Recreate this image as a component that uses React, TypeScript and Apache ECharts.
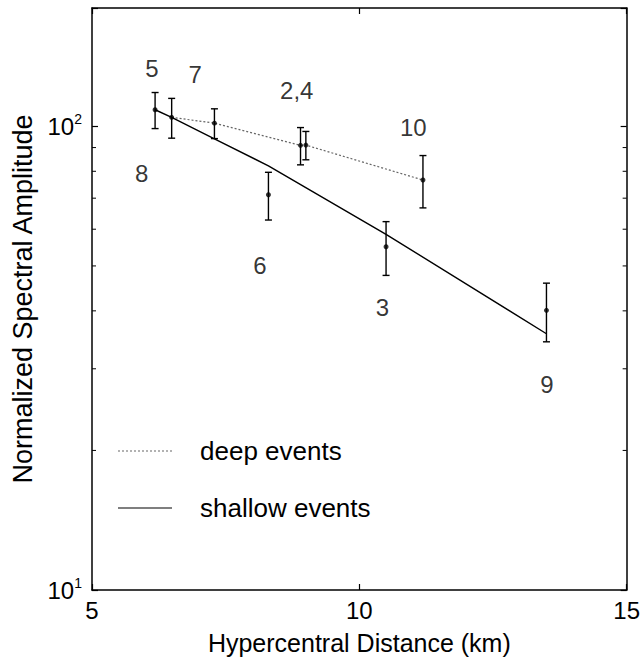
import React, { useEffect, useRef } from "react";
import * as echarts from "echarts";

// Events: id, hypercentral distance (km), normalized amplitude, error
const eventIds = ["5", "8", "7", "2", "4", "6", "10", "3", "9"];
const distances = [6.18, 6.49, 7.29, 8.9, 9.0, 8.3, 11.19, 10.5, 13.5];
const amplitudes = [108.6, 104.6, 101.6, 91.0, 91.1, 71.2, 76.6, 55.0, 40.1];
const errors = [9.7, 10.3, 7.5, 8.4, 6.4, 8.4, 9.9, 7.3, 5.8];

// Model curves
const deepDist = [6.49, 7.29, 8.9, 9.0, 11.19];
const deepAmp = [104.6, 101.6, 91.0, 91.1, 76.6];
const shallowDist = [6.18, 6.49, 7.29, 8.3, 10.5, 13.5];
const shallowAmp = [108.6, 104.6, 94.0, 82.2, 58.5, 35.7];

// Event number annotations (data coordinates)
const labelTexts = ["5", "7", "2,4", "10", "8", "6", "3", "9"];
const labelX = [6.12, 6.93, 8.83, 11.01, 5.93, 8.14, 10.43, 13.51];
const labelY = [133, 129.4, 119.2, 99.6, 79.2, 50.1, 40.6, 27.8];

// Axis ticks
const xMin = 5;
const xMax = 15;
const xStep = 5;
const yMin = 10;
const yMax = 180;
const yMinorTicks = [20, 30, 40, 50, 60, 70, 80, 90];

const FONT = "Liberation Sans";

export default function App() {
  const ref = useRef<HTMLDivElement>(null);

  useEffect(() => {
    if (!ref.current) return;
    const chart = echarts.init(ref.current, undefined, { renderer: "svg" });

    const supFmt = (v: number) => {
      const e = Math.log10(v);
      if (Math.abs(e - Math.round(e)) > 1e-6) return "";
      return `{b|10}{s|${Math.round(e)}}`;
    };

    const axisLine = { show: true, lineStyle: { color: "#000", width: 1.5 } };
    const tick = { show: true, inside: true, length: 6, lineStyle: { color: "#000", width: 1.2 } };

    const option: any = {
      animation: false,
      backgroundColor: "#fff",
      textStyle: { fontFamily: FONT },
      grid: { left: 92, right: 16, top: 8, bottom: 64, containLabel: false },
      xAxis: [
        {
          type: "value",
          min: xMin,
          max: xMax,
          interval: xStep,
          position: "bottom",
          axisLine,
          axisTick: tick,
          splitLine: { show: false },
          axisLabel: { color: "#000", fontSize: 24, fontFamily: FONT, margin: 8 },
          name: "Hypercentral Distance (km)",
          nameLocation: "middle",
          nameGap: 40,
          nameTextStyle: { color: "#000", fontSize: 25, fontFamily: FONT },
        },
        {
          type: "value",
          min: xMin,
          max: xMax,
          interval: xStep,
          position: "top",
          axisLine,
          axisTick: tick,
          splitLine: { show: false },
          axisLabel: { show: false },
        },
      ],
      yAxis: [
        {
          type: "log",
          logBase: 10,
          min: yMin,
          max: yMax,
          position: "left",
          axisLine,
          axisTick: tick,
          splitLine: { show: false },
          axisLabel: {
            color: "#000",
            margin: 10,
            formatter: supFmt,
            rich: {
              b: { fontSize: 24, fontFamily: FONT, color: "#000", lineHeight: 28 },
              s: { fontSize: 14, fontFamily: FONT, color: "#000", verticalAlign: "top", lineHeight: 14 },
            },
          },
          name: "Normalized Spectral Amplitude",
          nameLocation: "middle",
          nameGap: 56,
          nameTextStyle: { color: "#000", fontSize: 27, fontFamily: FONT },
        },
        {
          type: "log",
          logBase: 10,
          min: yMin,
          max: yMax,
          position: "right",
          axisLine,
          axisTick: tick,
          splitLine: { show: false },
          axisLabel: { show: false },
        },
      ],
      series: [
        {
          type: "custom",
          name: "minorTicks",
          xAxisIndex: 0,
          yAxisIndex: 0,
          silent: true,
          data: yMinorTicks.map((v) => [xMin, v]),
          encode: { x: 0, y: 1 },
          renderItem: (_p: any, api: any) => {
            const v = api.value(1);
            const l = api.coord([xMin, v]);
            const r = api.coord([xMax, v]);
            const st = { stroke: "#000", lineWidth: 1 };
            return {
              type: "group",
              children: [
                { type: "line", shape: { x1: l[0], y1: l[1], x2: l[0] + 4, y2: l[1] }, style: st },
                { type: "line", shape: { x1: r[0] - 4, y1: r[1], x2: r[0], y2: r[1] }, style: st },
              ],
            };
          },
        },
        {
          type: "line",
          name: "deep events",
          data: deepDist.map((d, i) => [d, deepAmp[i]]),
          showSymbol: false,
          lineStyle: { color: "#666", width: 1.2, type: [2, 2] },
          z: 2,
        },
        {
          type: "line",
          name: "shallow events",
          data: shallowDist.map((d, i) => [d, shallowAmp[i]]),
          showSymbol: false,
          lineStyle: { color: "#000", width: 1.4 },
          z: 2,
        },
        {
          type: "custom",
          name: "errorBars",
          data: distances.map((d, i) => [d, amplitudes[i], errors[i]]),
          encode: { x: 0, y: 1 },
          renderItem: (_p: any, api: any) => {
            const x = api.value(0);
            const y = api.value(1);
            const e = api.value(2);
            const t = api.coord([x, y + e]);
            const b = api.coord([x, y - e]);
            const cw = 3.5;
            const st = { stroke: "#000", lineWidth: 1.4 };
            return {
              type: "group",
              children: [
                { type: "line", shape: { x1: t[0], y1: t[1], x2: b[0], y2: b[1] }, style: st },
                { type: "line", shape: { x1: t[0] - cw, y1: t[1], x2: t[0] + cw, y2: t[1] }, style: st },
                { type: "line", shape: { x1: b[0] - cw, y1: b[1], x2: b[0] + cw, y2: b[1] }, style: st },
              ],
            };
          },
          z: 3,
        },
        {
          type: "scatter",
          name: "events",
          data: distances.map((d, i) => ({ value: [d, amplitudes[i]], name: eventIds[i] })),
          symbol: "circle",
          symbolSize: 5,
          itemStyle: { color: "#000" },
          z: 4,
        },
        {
          type: "scatter",
          name: "labels",
          data: labelX.map((x, i) => ({ value: [x, labelY[i]], name: labelTexts[i] })),
          symbolSize: 1,
          itemStyle: { color: "rgba(0,0,0,0)" },
          label: {
            show: true,
            position: "inside",
            formatter: "{b}",
            color: "#000",
            fontSize: 24,
            fontFamily: FONT,
          },
          z: 5,
        },
      ],
      graphic: [
        {
          type: "line",
          shape: { x1: 118, y1: 451, x2: 172, y2: 451 },
          style: { stroke: "#666", lineWidth: 1.2, lineDash: [2, 2] },
        },
        {
          type: "text",
          x: 200,
          y: 451,
          style: { text: "deep events", fill: "#000", font: `26px "${FONT}"`, verticalAlign: "middle", align: "left" },
        },
        {
          type: "line",
          shape: { x1: 118, y1: 508, x2: 172, y2: 508 },
          style: { stroke: "#000", lineWidth: 1.2 },
        },
        {
          type: "text",
          x: 200,
          y: 508,
          style: { text: "shallow events", fill: "#000", font: `26px "${FONT}"`, verticalAlign: "middle", align: "left" },
        },
      ],
    };

    chart.setOption(option);
    return () => chart.dispose();
  }, []);

  return (
    <div
      ref={ref}
      style={{ position: "fixed", left: 0, top: 0, width: 643, height: 660, background: "#fff" }}
    />
  );
}
